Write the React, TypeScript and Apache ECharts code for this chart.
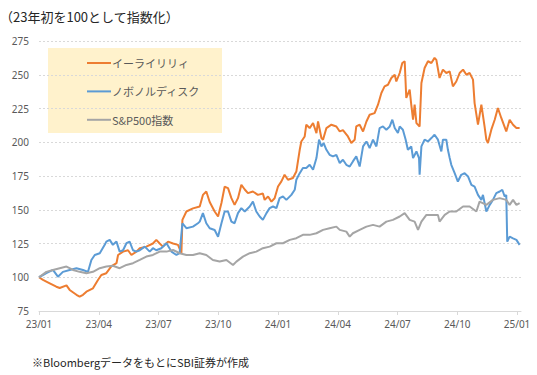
import React, { useEffect, useRef } from "react";
import * as echarts from "echarts";

const TITLE = "（23年初を100として指数化）";
const FOOTNOTE = "※BloombergデータをもとにSBI証券が作成";
const seriesNames = ["イーライリリィ", "ノボノルディスク", "S&P500指数"];
const seriesColors = ["#ED7D31", "#5B9BD5", "#A5A5A5"];

// x = months since 2023/01
const xTickMonths = [0, 3, 6, 9, 12, 15, 18, 21, 24];
const xTickLabels = ["23/01", "23/04", "23/07", "23/10", "24/01", "24/04", "24/07", "24/10", "25/01"];
const yTicks = [75, 100, 125, 150, 175, 200, 225, 250, 275];

const lilly: [number, number][] = [
  [0, 100], [0.2, 98], [0.54, 95.5], [0.87, 93], [1.04, 92], [1.38, 94], [1.54, 90.6], [1.88, 87], [2.04, 85.6],
  [2.21, 87], [2.38, 89.3], [2.71, 91.8], [2.96, 98], [3.13, 101.7], [3.38, 103], [3.63, 108], [3.89, 110.4],
  [3.97, 116.5], [4.22, 119], [4.47, 120], [4.64, 116.5], [4.89, 119], [5.06, 121.5], [5.39, 122.7], [5.72, 125],
  [5.89, 127.7], [6.06, 125], [6.22, 122.7], [6.48, 126.4], [6.73, 125], [6.98, 124], [7.15, 117.8], [7.2, 142.5],
  [7.4, 148.7], [7.73, 151], [8.07, 152.4], [8.23, 161], [8.4, 163.5], [8.57, 155.7], [8.82, 148.7], [8.99, 145],
  [9.16, 155], [9.32, 167], [9.49, 166], [9.66, 158.6], [9.82, 153.6], [9.99, 158.6], [10.16, 168.5], [10.33, 165],
  [10.49, 162.3], [10.74, 163.5], [10.99, 161], [11.24, 162], [11.33, 157.3], [11.5, 159.8], [11.67, 156],
  [11.83, 158.5], [12.0, 167.2], [12.17, 171], [12.33, 175.9], [12.5, 172.2], [12.75, 173.5], [12.92, 178.3],
  [13.09, 194.4], [13.17, 200.6], [13.34, 204.3], [13.42, 213], [13.59, 210.5], [13.76, 214.3], [13.93, 206.8],
  [14.01, 215.4], [14.18, 203.1], [14.26, 201.9], [14.43, 210.5], [14.68, 213], [14.93, 211.7], [15.1, 208],
  [15.26, 209], [15.51, 204.3], [15.68, 199.4], [15.85, 201.9], [15.93, 211.7], [16.1, 213], [16.27, 208],
  [16.44, 215.4], [16.6, 220.4], [16.85, 221.6], [17.02, 227.8], [17.19, 236.5], [17.35, 241.4], [17.52, 242.6],
  [17.69, 247.6], [17.86, 250], [17.94, 245], [18.11, 251.3], [18.24, 258.7], [18.36, 260], [18.44, 232.8],
  [18.61, 239], [18.69, 227.8], [18.78, 216.7], [18.86, 227.8], [18.95, 214.2], [19.11, 211.7], [19.2, 243.9],
  [19.36, 255], [19.53, 260], [19.7, 258.7], [19.86, 262.5], [19.95, 261], [20.11, 247.6], [20.28, 253.8],
  [20.45, 251.3], [20.62, 252.5], [20.78, 241.4], [20.95, 245], [21.12, 251.3], [21.29, 253.8], [21.46, 250],
  [21.62, 251.3], [21.79, 246.4], [21.87, 229], [22.04, 213], [22.21, 227.8], [22.37, 211.7], [22.46, 201.9],
  [22.54, 199.4], [22.71, 209.3], [22.88, 216.7], [23.04, 225.4], [23.21, 218], [23.46, 208], [23.63, 216.7],
  [23.8, 213], [23.97, 210.5], [24.13, 210.5],
];

const novo: [number, number][] = [
  [0, 100], [0.37, 103], [0.7, 105.4], [0.95, 100.4], [1.2, 104], [1.54, 105.4], [1.88, 106.7], [2.21, 105.4],
  [2.46, 104], [2.63, 112.8], [2.8, 116.5], [3.05, 117.8], [3.3, 124], [3.38, 126.4], [3.55, 127.7], [3.71, 124],
  [3.89, 126.4], [4.05, 119], [4.22, 120], [4.39, 125.2], [4.55, 126.4], [4.72, 120], [4.89, 119], [5.06, 120],
  [5.31, 122.7], [5.56, 119], [5.72, 121.5], [5.89, 120], [6.14, 121.5], [6.4, 125.2], [6.65, 119], [6.9, 116.5],
  [7.06, 117.8], [7.2, 140], [7.4, 136.3], [7.73, 137.5], [7.98, 140], [8.07, 141.2], [8.23, 147.5], [8.4, 140],
  [8.57, 136.3], [8.82, 135], [8.99, 130], [9.16, 140], [9.32, 148.7], [9.49, 148.7], [9.66, 141.2], [9.82, 140],
  [9.99, 147.5], [10.16, 151.2], [10.33, 148.7], [10.58, 152.4], [10.74, 156], [10.91, 148.7], [11.08, 145],
  [11.24, 142.5], [11.42, 147.5], [11.58, 151.2], [11.75, 152.4], [11.92, 151.2], [12.08, 158.6], [12.25, 159.8],
  [12.42, 157.3], [12.67, 161], [12.84, 164.8], [12.92, 172.2], [13.09, 177.1], [13.25, 180.9], [13.42, 180.9],
  [13.59, 183.3], [13.76, 179.6], [13.93, 188.3], [14.06, 201.9], [14.18, 196.9], [14.29, 199.4], [14.43, 194.4],
  [14.59, 190.7], [14.76, 189.5], [14.93, 190.7], [15.1, 184.6], [15.26, 187], [15.43, 183.3], [15.6, 182],
  [15.76, 185.8], [15.93, 189.5], [16.1, 182], [16.27, 196.9], [16.44, 200.6], [16.6, 195.7], [16.77, 201.9],
  [16.94, 196.9], [17.1, 210.5], [17.27, 211.7], [17.44, 209.3], [17.61, 211.7], [17.74, 216.7], [17.86, 210.5],
  [18.02, 206.8], [18.11, 211.7], [18.27, 209.3], [18.41, 201.9], [18.52, 194.4], [18.69, 196.9], [18.78, 188.3],
  [18.95, 193.2], [19.08, 188.3], [19.11, 175.9], [19.2, 196.9], [19.36, 201.9], [19.53, 200.6], [19.7, 203.1],
  [19.86, 205.6], [20.03, 201.9], [20.2, 193.2], [20.28, 201.9], [20.45, 201.9], [20.53, 194.4], [20.62, 188.3],
  [20.7, 183.3], [20.87, 177.1], [21.03, 170.9], [21.2, 175.9], [21.37, 177.1], [21.54, 174.7], [21.71, 168.5],
  [21.87, 167.2], [22.04, 161], [22.21, 157.3], [22.29, 161], [22.46, 148.7], [22.63, 153.6], [22.79, 157.3],
  [22.96, 162.3], [23.13, 163.5], [23.26, 164.8], [23.38, 159.8], [23.46, 161], [23.51, 126.4], [23.63, 130.1],
  [23.8, 128.8], [23.97, 127.7], [24.13, 124],
];

const sp500: [number, number][] = [
  [0, 100], [0.37, 104], [0.7, 105.4], [1.04, 106.7], [1.38, 107.9], [1.71, 105.4], [2.04, 104], [2.38, 103],
  [2.71, 104], [3.05, 106.7], [3.38, 107.9], [3.71, 108.5], [4.05, 106.7], [4.39, 109.1], [4.72, 110.4],
  [5.06, 112.8], [5.39, 115.3], [5.72, 116.5], [6.06, 119], [6.4, 119], [6.73, 120.2], [7.06, 117.8], [7.4, 116.5],
  [7.73, 116.5], [8.07, 117.8], [8.4, 116.5], [8.73, 112.8], [9.07, 111.6], [9.41, 112.8], [9.74, 109.1],
  [9.91, 111.6], [10.24, 115.3], [10.58, 117.8], [10.91, 119], [11.24, 121.5], [11.58, 122.7], [11.92, 125.2],
  [12.25, 125.2], [12.59, 127.7], [12.92, 128.9], [13.25, 131.4], [13.59, 131.4], [13.93, 132.6], [14.26, 135.1],
  [14.59, 136.3], [14.93, 137.5], [15.1, 135.1], [15.43, 133.8], [15.6, 130.1], [15.76, 132.6], [16.1, 135.1],
  [16.44, 137.5], [16.77, 138.8], [17.1, 137.5], [17.44, 141.2], [17.77, 142.5], [18.11, 145], [18.36, 147.5],
  [18.61, 142.5], [18.86, 141.2], [19.03, 135.1], [19.2, 141.2], [19.45, 146.2], [19.78, 146.2], [20.03, 146.2],
  [20.11, 141.2], [20.37, 146.2], [20.62, 148.7], [20.95, 148.7], [21.29, 152.4], [21.62, 152.4], [21.96, 148.7],
  [22.12, 156], [22.46, 153.6], [22.79, 157.3], [23.13, 158.6], [23.46, 157.3], [23.63, 153.6], [23.8, 157.3],
  [23.97, 153.6], [24.13, 154.9],
];

const seriesData = [lilly, novo, sp500];

export default function App() {
  const ref = useRef<HTMLDivElement>(null);
  useEffect(() => {
    if (!ref.current) return;
    const chart = echarts.init(ref.current, null, { renderer: "svg" });
    const jp = "'Noto Sans CJK JP', 'Noto Sans', sans-serif";
    chart.setOption({
      animation: false,
      backgroundColor: "#ffffff",
      title: {
        text: TITLE,
        left: 0,
        top: 10,
        padding: 0,
        textStyle: { fontFamily: jp, fontSize: 13, fontWeight: "normal", color: "#262626" },
      },
      graphic: [
        {
          type: "rect",
          left: 48,
          top: 48,
          z: 0,
          silent: true,
          shape: { width: 174, height: 85 },
          style: { fill: "#FFF2CC" },
        },
        {
          type: "text",
          left: 32,
          top: 356,
          style: { text: FOOTNOTE, fontFamily: jp, fontSize: 11, fill: "#262626" },
        },
      ],
      legend: {
        orient: "vertical",
        left: 87,
        top: 56,
        padding: 0,
        itemWidth: 24,
        itemHeight: 2,
        itemGap: 14.4,
        icon: "rect",
        z: 5,
        data: seriesNames,
        textStyle: { fontFamily: jp, fontSize: 11, color: "#595959", lineHeight: 14, padding: [0, 0, 0, -4] },
      },
      grid: { left: 39, right: 16, top: 41, bottom: 64 },
      xAxis: {
        type: "value",
        min: 0,
        max: 24.2,
        splitLine: { show: false },
        axisLine: { lineStyle: { color: "#D9D9D9", width: 1 } },
        axisTick: { show: true, length: 4, customValues: xTickMonths, lineStyle: { color: "#D9D9D9" } },
        axisLabel: {
          customValues: xTickMonths,
          margin: 8,
          fontFamily: "'Noto Sans', sans-serif",
          fontSize: 10,
          color: "#595959",
          formatter: (v: number) => {
            const i = xTickMonths.indexOf(Math.round(v));
            return i >= 0 ? xTickLabels[i] : "";
          },
        },
      },
      yAxis: {
        type: "value",
        min: yTicks[0],
        max: yTicks[yTicks.length - 1],
        interval: 25,
        axisLine: { show: false },
        axisTick: { show: false },
        axisLabel: { margin: 10, fontFamily: "'Noto Sans', sans-serif", fontSize: 10, color: "#595959" },
        splitLine: { lineStyle: { color: "#D9D9D9", type: [2, 2], width: 1 } },
      },
      series: seriesNames.map((name, i) => ({
        name,
        type: "line",
        data: seriesData[i],
        showSymbol: false,
        symbol: "none",
        color: seriesColors[i],
        lineStyle: { width: 2, color: seriesColors[i] },
        z: 2 + i,
      })),
    });
    return () => chart.dispose();
  }, []);
  return (
    <div
      ref={ref}
      style={{ position: "fixed", left: 0, top: 0, width: 537, height: 375, background: "#fff" }}
    />
  );
}
